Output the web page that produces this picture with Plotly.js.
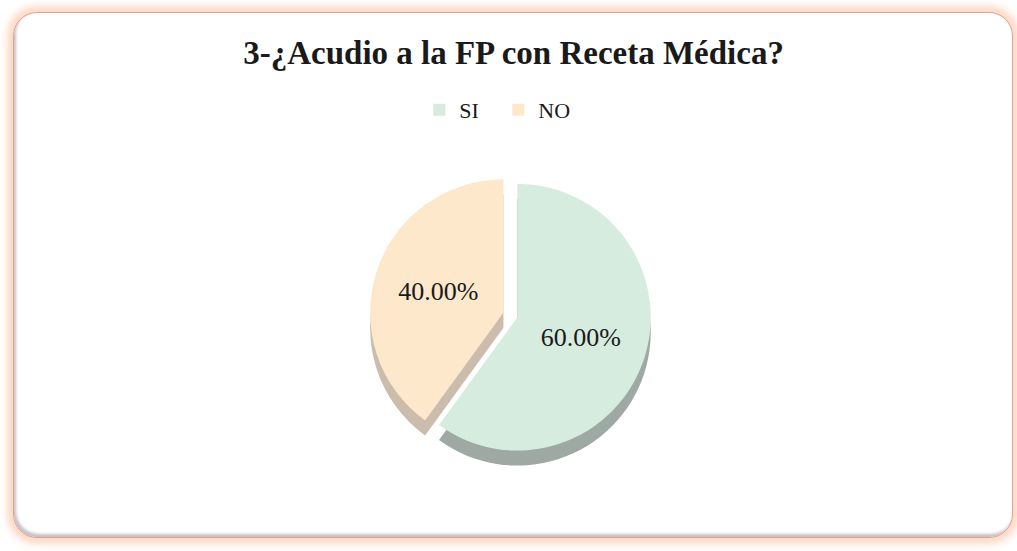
<!DOCTYPE html>
<html>
<head>
<meta charset="utf-8">
<script src="https://cdn.plot.ly/plotly-3.0.1.min.js"></script>
<style>
  html, body { margin:0; padding:0; background:#ffffff; }
  #frame {
    position:absolute; left:13px; top:12px; width:998px; height:524px;
    border-radius:24px; border:1.5px solid #e6a28c; background:#fff;
    box-shadow: 0 0 7px 6px rgba(250,185,150,0.55), inset 2px -3px 3px rgba(120,120,130,0.45);
  }
  #chart { position:absolute; left:0; top:0; width:1017px; height:551px; }
</style>
</head>
<body>
<div id="frame"></div>
<div id="chart"></div>
<script>
const categories = ['SI', 'NO'];
const values = [60, 40];
const chartTitle = '3-¿Acudio a la FP con Receta Médica?';

const faceColors = ['#d6ecdf', '#fde8cb'];
const sideColors = ['#9fa9a3', '#cbbcab'];
const pulls = [0.03, 0.08];
const serif = '"Liberation Serif", "DejaVu Serif", serif';

const H = 551;
const top0 = 172, bot0 = 460, depth = 15;

const side = {
  type:'pie', labels:categories, values:values, sort:false, direction:'clockwise', rotation:0,
  pull:pulls, marker:{colors:sideColors, line:{width:0}}, textinfo:'none', hoverinfo:'skip',
  showlegend:false,
  domain:{x:[0.01,1], y:[(H-bot0-depth)/H, (H-top0-depth)/H]}
};
const face = {
  type:'pie', labels:categories, values:values, sort:false, direction:'clockwise', rotation:0,
  pull:pulls, marker:{colors:faceColors, line:{width:0}},
  texttemplate:'%{percent:.2%}', textposition:'inside', insidetextorientation:'horizontal',
  textfont:{family:serif, size:26, color:'#1a1a1a'},
  domain:{x:[0.01,1], y:[(H-bot0)/H, (H-top0)/H]}
};

const layout = {
  width:1017, height:551,
  margin:{l:0, r:0, t:0, b:0},
  paper_bgcolor:'rgba(0,0,0,0)', plot_bgcolor:'rgba(0,0,0,0)',
  title:{text:'<b>'+chartTitle+'</b>', font:{family:serif, size:33, color:'#1a1a1a'},
         x:0.505, xanchor:'center', y:1-52/H, yanchor:'middle', yref:'container'},
  legend:{orientation:'h', x:0.49, xanchor:'center', y:1-110/H, yanchor:'middle',
          font:{family:serif, size:22, color:'#1a1a1a'}, traceorder:'normal', itemwidth:30,
          entrywidth:34, entrywidthmode:'pixels'},
  showlegend:true
};

Plotly.newPlot('chart', [side, face], layout, {displayModeBar:false, staticPlot:true});
</script>
</body>
</html>
